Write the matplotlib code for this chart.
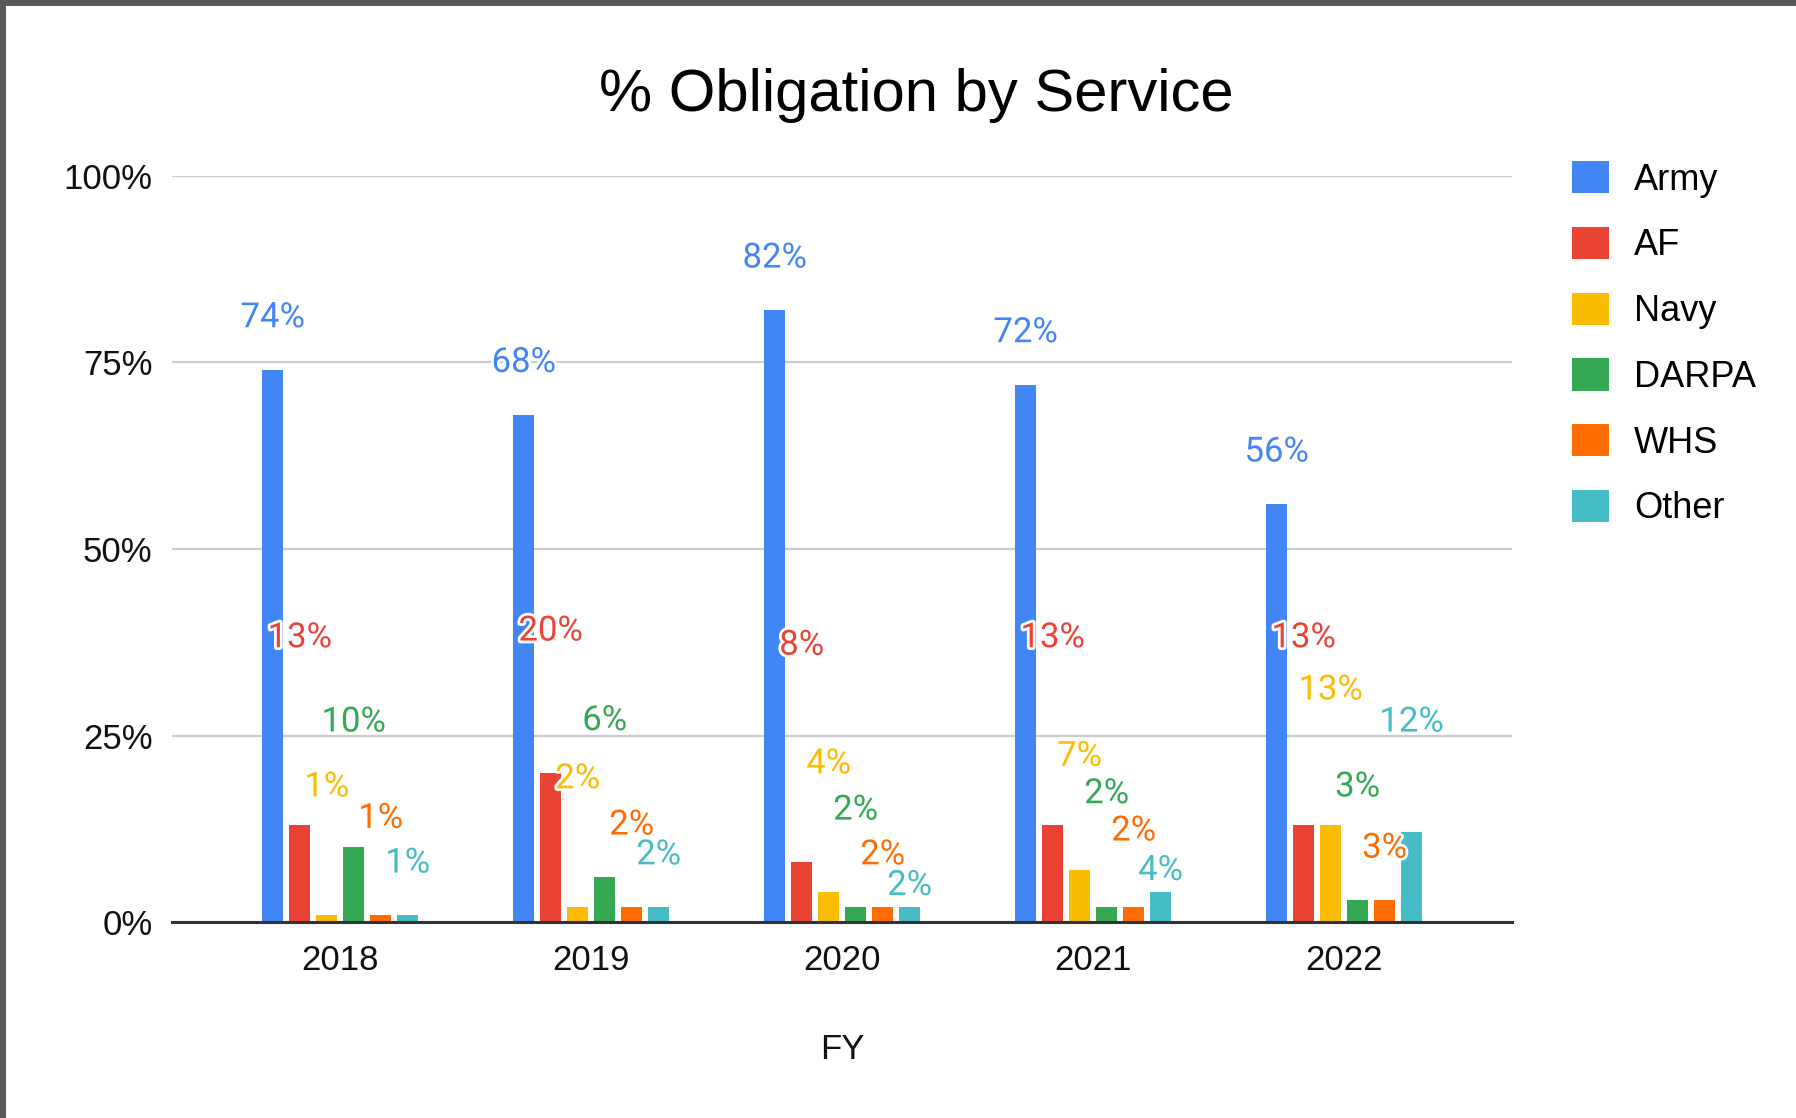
import numpy as np
import matplotlib
matplotlib.use("Agg")
import matplotlib.pyplot as plt
import matplotlib.patheffects as pe
from matplotlib.patches import Rectangle

years = ["2018", "2019", "2020", "2021", "2022"]
services = ["Army", "AF", "Navy", "DARPA", "WHS", "Other"]

army = [74, 68, 82, 72, 56]
af = [13, 20, 8, 13, 13]
navy = [1, 2, 4, 7, 13]
darpa = [10, 6, 2, 2, 3]
whs = [1, 2, 2, 2, 3]
other = [1, 2, 2, 4, 12]

colors = ["#4285F4", "#EA4335", "#FBBC04", "#34A853", "#FF6D01", "#46BDC6"]

# where the chart tool parked each value label (y, in % units) to dodge overlaps
label_y = {
    "Army": [81.0, 75.0, 89.0, 79.0, 63.0],
    "AF": [38.1, 39.0, 37.1, 38.1, 38.1],
    "Navy": [18.1, 19.2, 21.2, 22.2, 31.1],
    "DARPA": [26.8, 27.0, 15.0, 17.2, 18.1],
    "WHS": [13.9, 13.0, 9.0, 12.2, 9.9],
    "Other": [7.9, 9.0, 4.9, 6.9, 26.8],
}

series = [army, af, navy, darpa, whs, other]

plt.rcParams["font.family"] = ["Liberation Sans", "DejaVu Sans"]

fig = plt.figure(figsize=(17.96, 11.18), dpi=100)
ax = fig.add_axes([0.0958, 0.1753, 0.7462, 0.6673])

x = np.arange(len(years))
pitch = 0.1075
width = 0.083

for i, (name, vals, col) in enumerate(zip(services, series, colors)):
    xs = x + (i - 2.5) * pitch
    ax.bar(xs, vals, width=width, color=col, label=name, zorder=3)
    for xi, v, ly in zip(xs, vals, label_y[name]):
        ax.text(xi, ly, f"{v}%", ha="center", va="center", color=col,
                fontsize=25, family=["Roboto", "DejaVu Sans"], zorder=5,
                path_effects=[pe.withStroke(linewidth=4, foreground="white")])

ax.set_xlim(-0.67, 4.67)
ax.set_ylim(0, 100)
ax.set_yticks([0, 25, 50, 75, 100])
ax.set_yticklabels(["0%", "25%", "50%", "75%", "100%"])
ax.set_xticks(x)
ax.set_xticklabels(years)
ax.tick_params(axis="both", length=0, labelsize=25, colors="#111111")
ax.tick_params(axis="y", pad=14)
ax.tick_params(axis="x", pad=16)
ax.grid(axis="y", color="#cccccc", linewidth=1.6, zorder=0)
for s in ["top", "right", "left"]:
    ax.spines[s].set_visible(False)
ax.spines["bottom"].set_color("#333333")
ax.spines["bottom"].set_linewidth(2.2)
ax.spines["bottom"].set_zorder(4)

ax.set_xlabel("FY", fontsize=25, color="#111111", labelpad=40)

fig.text(0.510, 0.915, "% Obligation by Service", ha="center", va="center",
         fontsize=43, color="#000000")

ax.legend(loc="upper left", bbox_to_anchor=(0.8755, 0.856),
          bbox_transform=fig.transFigure, frameon=False, fontsize=26,
          handlelength=1.0, handleheight=1.0, handletextpad=0.7,
          labelspacing=0.81, borderpad=0, borderaxespad=0)

# dark frame edge visible at top and left of the screenshot
fig.add_artist(Rectangle((0, 1 - 6 / 1118), 1, 6 / 1118,
                         transform=fig.transFigure, color="#595959", lw=0))
fig.add_artist(Rectangle((0, 0), 6 / 1796, 1,
                         transform=fig.transFigure, color="#595959", lw=0))

fig.savefig("out.png", dpi=100)
